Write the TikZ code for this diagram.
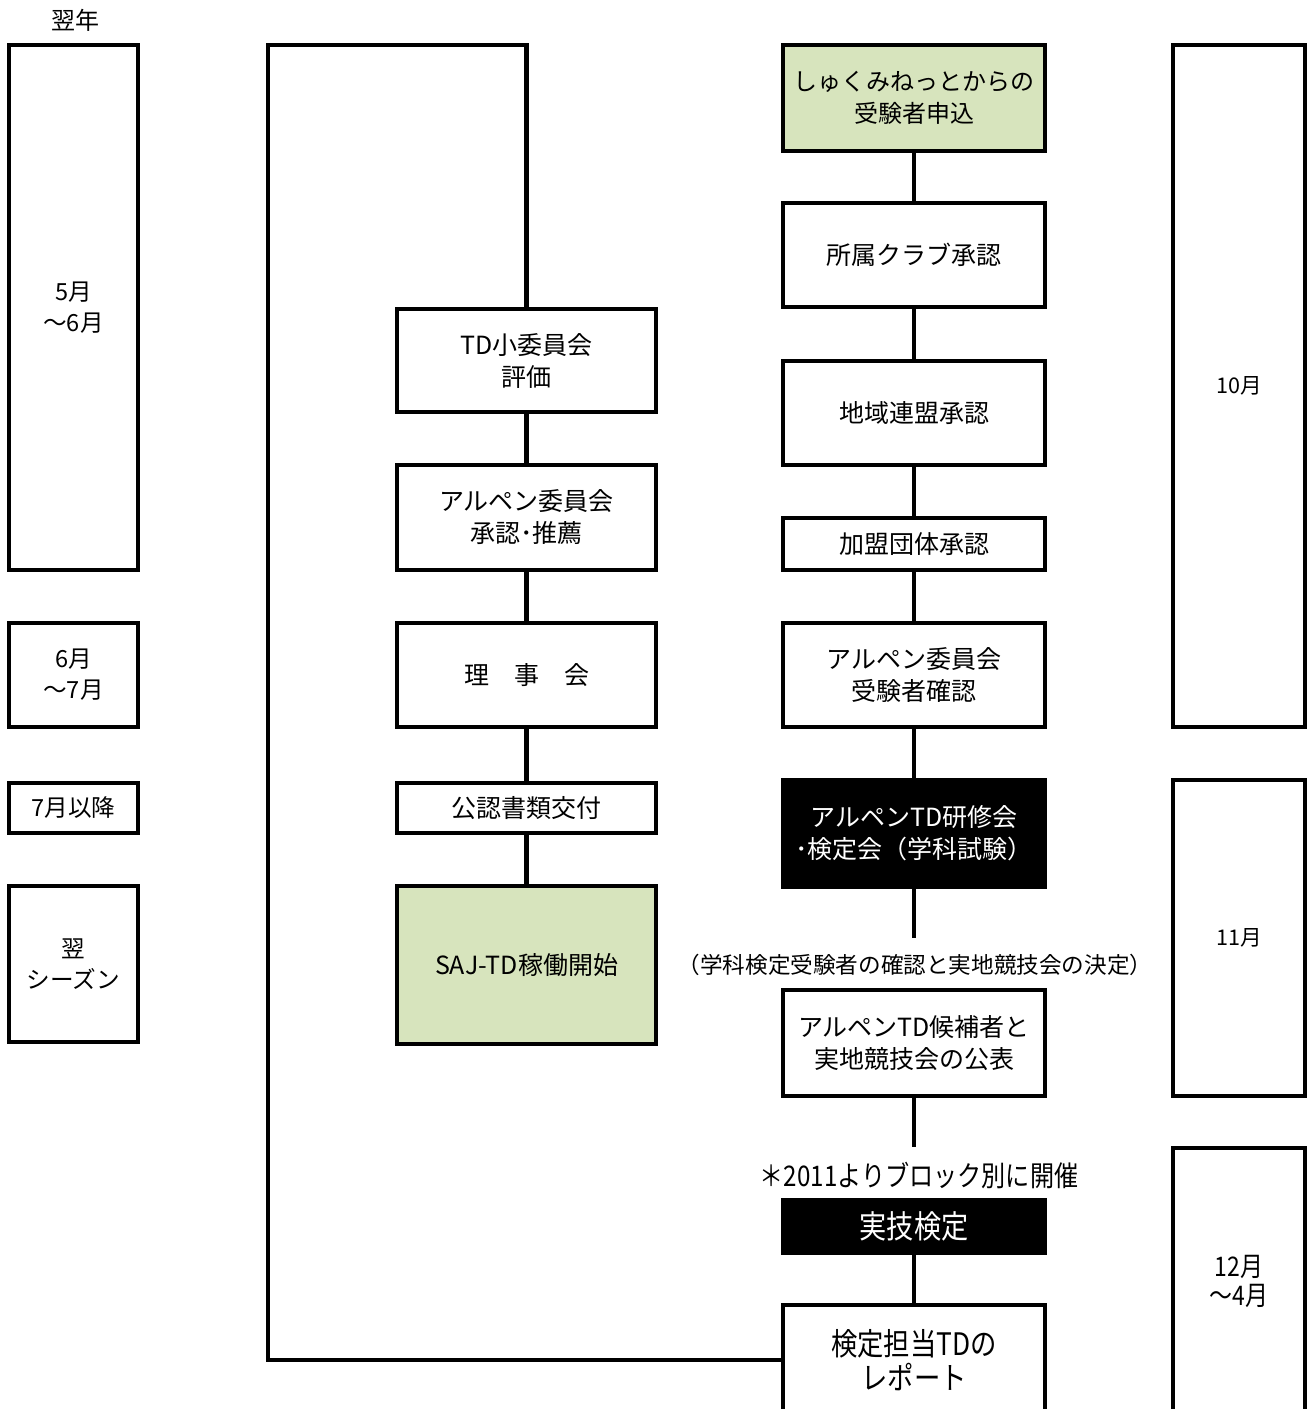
\documentclass[tikz,border=0pt]{standalone}
\usepackage{fontspec}
\setmainfont{Noto Sans CJK JP}
\newfontfamily\condfont[FakeStretch=0.85]{Noto Sans CJK JP}
\definecolor{boxgreen}{HTML}{D7E4BD}
\begin{document}
\begin{tikzpicture}[x=0.5pt,y=-0.5pt,
  every node/.style={inner sep=0pt, outer sep=0pt},
  box/.style={draw, line width=2.25pt, align=center, fill=white,
    font=\fontsize{12.5}{16}\selectfont},
  leftbox/.style={box, minimum width=64.5pt, font=\fontsize{11.8}{15.5}\selectfont},
  midbox/.style={box, minimum width=129.5pt},
  rightbox/.style={box, minimum width=131pt},
  farbox/.style={box, minimum width=66pt, font=\fontsize{10.8}{15}\selectfont},
  greenbox/.style={fill=boxgreen},
  blackbox/.style={fill=black, text=white},
  link/.style={line width=2.25pt},
  note/.style={font=\fontsize{11.3}{14}\selectfont}
]
\path[use as bounding box, clip] (0,0) rectangle (1308,1409);
\fill[white] (0,0) rectangle (1308,1409);

% header
\node[note, font=\fontsize{12}{14}\selectfont] (hdr) at (75,20) {翌年};

% left column
\node[leftbox, minimum height=262.5pt] (L1) at (73.5,307.5) {5月\\～6月};
\node[leftbox, minimum height=52pt] (L2) at (73.5,675) {6月\\～7月};
\node[leftbox, minimum height=25pt] (L3) at (73.5,808) {7月以降};
\node[leftbox, minimum height=78pt] (L4) at (73.5,964) {翌\\シーズン};

% middle column
\node[midbox, minimum height=51.5pt] (M1) at (526.5,360.5) {TD小委員会\\評価};
\node[midbox, minimum height=52.5pt] (M2) at (526.5,517.5) {アルペン委員会\\承認･推薦};
\node[midbox, minimum height=52pt] (M3) at (526.5,675) {理　事　会};
\node[midbox, minimum height=25pt] (M4) at (526.5,808) {公認書類交付};
\node[midbox, greenbox, minimum height=79pt] (M5) at (526.5,965) {SAJ-TD稼働開始};

% right column
\node[rightbox, greenbox, minimum height=53pt, font=\fontsize{12}{16}\selectfont] (R1) at (914,98) {しゅくみねっとからの\\受験者申込};
\node[rightbox, minimum height=52pt] (R2) at (914,255) {所属クラブ承認};
\node[rightbox, minimum height=52pt] (R3) at (914,413) {地域連盟承認};
\node[rightbox, minimum height=26pt] (R4) at (914,544) {加盟団体承認};
\node[rightbox, minimum height=52pt] (R5) at (914,675) {アルペン委員会\\受験者確認};
\node[rightbox, blackbox, minimum height=53.5pt] (R6) at (914,833.5) {アルペンTD研修会\\･検定会（学科試験）};
\node[note] (n1) at (915,965) {（学科検定受験者の確認と実地競技会の決定）};
\node[rightbox, minimum height=53pt] (R7) at (914,1043) {アルペンTD候補者と\\実地競技会の公表};
\node[note, font=\condfont\fontsize{14.2}{16}\selectfont] (n2) at (919,1175) {＊2011よりブロック別に開催};
\node[rightbox, blackbox, minimum height=26.5pt, font=\condfont\fontsize{16}{17}\selectfont] (R8) at (914,1226.5) {実技検定};
\node[rightbox, minimum height=55pt, font=\condfont\fontsize{15.5}{17}\selectfont] (R9) at (914,1360) {検定担当TDの\\レポート};

% far right column
\node[farbox, minimum height=341pt] (F1) at (1239,386) {10月};
\node[farbox, minimum height=158pt] (F2) at (1239,938) {11月};
\node[farbox, minimum height=133pt, font=\condfont\fontsize{13.5}{14.5}\selectfont] (F3) at (1239,1281) {12月\\～4月};

% connectors
\coordinate (c1) at (914,938);
\coordinate (c2) at (914,1147);
\coordinate (t1) at (526.5,45);
\coordinate (t2) at (268,45);
\draw[link] (R1) -- (R2);
\draw[link] (R2) -- (R3);
\draw[link] (R3) -- (R4);
\draw[link] (R4) -- (R5);
\draw[link] (R5) -- (R6);
\draw[link] (R6.south) -- (c1);
\draw[link] (R7.south) -- (c2);
\draw[link] (R8) -- (R9);
\draw[link] (M1) -- (M2);
\draw[link] (M2) -- (M3);
\draw[link] (M3) -- (M4);
\draw[link] (M4) -- (M5);
\draw[link] (M1.north) -- (t1) -- (t2) |- (R9.west);
\end{tikzpicture}
\end{document}
